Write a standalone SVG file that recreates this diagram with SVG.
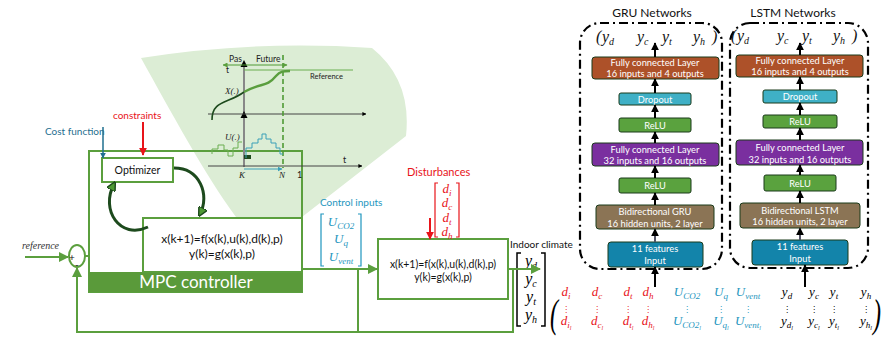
<svg xmlns="http://www.w3.org/2000/svg" width="883" height="339" viewBox="0 0 883 339">
<style>
.s{font-family:Lato,"Open Sans","DejaVu Sans",sans-serif}
.m{font-family:"Liberation Serif","DejaVu Serif",serif;font-style:italic}
.g{stroke:#5b9f3e;stroke-width:2;fill:none}
.box{fill:#fff;stroke:#5b9f3e;stroke-width:2}
.dd{fill:none;stroke:#000;stroke-width:2.2;stroke-dasharray:9 4 2 4}
.nn{stroke:#1a3a1a;stroke-width:1}
.wt{fill:#fff;font-size:9.3px;text-anchor:middle}
.red{fill:#e8141a}
.teal{fill:#1e96be}
.blk{stroke:#000;stroke-width:2;fill:none}
</style>
<defs>
<marker id="ag" viewBox="0 0 10 10" refX="9" refY="5" markerWidth="5" markerHeight="5" orient="auto"><path d="M0,0 L10,5 L0,10 z" fill="#5b9f3e"/></marker>
<marker id="ab" viewBox="0 0 10 10" refX="9" refY="5" markerWidth="4" markerHeight="4" orient="auto"><path d="M0,0 L10,5 L0,10 z" fill="#000"/></marker>
<marker id="ar" viewBox="0 0 10 10" refX="9" refY="5" markerWidth="4" markerHeight="4" orient="auto"><path d="M0,0 L10,5 L0,10 z" fill="#e8141a"/></marker>
<marker id="at" viewBox="0 0 10 10" refX="9" refY="5" markerWidth="4" markerHeight="4" orient="auto"><path d="M0,0 L10,5 L0,10 z" fill="#1f6f8f"/></marker>
<marker id="ac" viewBox="0 0 10 10" refX="9" refY="5" markerWidth="5" markerHeight="5" orient="auto"><path d="M0,0 L10,5 L0,10 z" fill="#3aa0b8"/></marker>
<marker id="adg" viewBox="0 0 10 10" refX="7" refY="5" markerWidth="3.2" markerHeight="3.2" orient="auto"><path d="M0,0 L10,5 L0,10 z" fill="#4f9a35" stroke="#1d4a1d" stroke-width="1.5"/></marker>
</defs>

<!-- zoom wedge -->
<path d="M141,58 Q255,40 372,48 Q412,80 406,136 L302,217 L236,217 C205,175 170,110 141,58 Z" fill="#dcedd5"/>

<!-- MPC controller -->
<g id="mpc">
<rect x="89" y="151" width="213" height="141" fill="none" stroke="#5b9f3e" stroke-width="2"/>
<rect x="89" y="272" width="213" height="20" fill="#5a9a3a"/>
<text x="196" y="288" class="s" font-size="17" fill="#fff" text-anchor="middle">MPC controller</text>
</g>

<!-- chart in wedge -->
<g id="chart">
<line x1="244" y1="167" x2="244" y2="62" stroke="#888" stroke-width="2"/>
<path d="M240.5,67 L244,60 L247.5,67 z" fill="#000"/>
<path d="M240.5,118 L244,111 L247.5,118 z" fill="#000"/>
<line x1="208" y1="114" x2="366" y2="114" stroke="#444" stroke-width="1" marker-end="url(#ab)"/>
<line x1="208" y1="166" x2="362" y2="166" stroke="#444" stroke-width="1" marker-end="url(#ab)"/>
<line x1="283" y1="55" x2="283" y2="168" stroke="#4f9a35" stroke-width="1.6" stroke-dasharray="5 3"/>
<line x1="244" y1="65" x2="223" y2="65" stroke="#4f9a35" stroke-width="1" marker-end="url(#ag)"/>
<line x1="244" y1="65" x2="287" y2="65" stroke="#4f9a35" stroke-width="1" marker-end="url(#ag)"/>
<text x="229" y="62" class="s" font-size="8.5" fill="#222">Pas</text>
<text x="256" y="62" class="s" font-size="8.5" fill="#222">Future</text>
<text x="226" y="73" class="s" font-size="8.5" fill="#222">t</text>
<line x1="244" y1="70" x2="353" y2="70" stroke="#6aae50" stroke-width="1"/>
<text x="310" y="79" class="s" font-size="7.5" fill="#222">Reference</text>
<path d="M212,120 C212,100 228,104 244,92" fill="none" stroke="#1d4a1d" stroke-width="1.6"/>
<path d="M244,92 C262,82 266,88 276,76 C280,71 284,71 290,71" fill="none" stroke="#5a9e3e" stroke-width="2.4"/>
<text x="225" y="94" class="m" font-size="9" fill="#222">X(.)</text>
<text x="225" y="140" class="m" font-size="9" fill="#222">U(.)</text>
<path d="M212,154 V149 H218 V145 H224 V150 H228 V156 H233 V148 H238 V142 H242" fill="none" stroke="#6aae50" stroke-width="1"/>
<rect x="244" y="155" width="7" height="4" fill="#1d4a1d"/>
<path d="M246,158 V148 H252 V143 H258 V139 H262 V134 H266 V139 H271 V143 H276 V148 H280 V154 H283" fill="none" stroke="#3aa0b8" stroke-width="1"/>
<line x1="244" y1="169" x2="282" y2="169" stroke="#3aa0b8" stroke-width="1" marker-end="url(#ac)"/>
<text x="239" y="178" class="m" font-size="9" fill="#222">K</text>
<text x="279" y="178" class="m" font-size="9" fill="#222">N</text>
<text x="297" y="178" class="s" font-size="9" fill="#222">1</text>
<text x="343" y="163" class="s" font-size="9" fill="#222">t</text>
</g>

<!-- labels -->
<text x="45" y="135" class="s" font-size="10" fill="#1f6f8f">Cost function</text>
<text x="113" y="119" class="s" font-size="10" fill="#e8141a">constraints</text>

<g id="optimizer">
<rect x="102" y="158" width="71" height="24" class="box"/>
<text x="137.5" y="174" class="s" font-size="10.5" fill="#111" text-anchor="middle">Optimizer</text>
</g>

<g id="model">
<rect x="143" y="218" width="159" height="54" class="box"/>
<text x="222" y="243" class="s" font-size="12" fill="#111" text-anchor="middle">x(k+1)=f(x(k),u(k),d(k),p)</text>
<text x="222" y="258" class="s" font-size="12" fill="#111" text-anchor="middle">y(k)=g(x(k),p)</text>
</g>

<g id="sum">
<ellipse cx="77" cy="256" rx="8" ry="11" fill="#fff" stroke="#5b9f3e" stroke-width="2"/>
<text x="69" y="261" class="s" font-size="10" fill="#111">+</text>
<text x="75" y="268" class="s" font-size="10" fill="#111">-</text>
</g>
<text x="22" y="249" class="m" font-size="10" fill="#333">reference</text>

<g id="plant">
<rect x="378" y="239" width="130" height="60" class="box"/>
<text x="443" y="268" class="s" font-size="10.5" fill="#111" text-anchor="middle">x(k+1)=f(x(k),u(k),d(k),p)</text>
<text x="443" y="281" class="s" font-size="10.5" fill="#111" text-anchor="middle">y(k)=g(x(k),p)</text>
</g>

<!-- control inputs -->
<g id="control-inputs">
<text x="320" y="206" class="s" font-size="10" fill="#1e96be">Control inputs</text>
<path d="M324,214 H321 V266 H324 M358,214 H361 V266 H358" fill="none" stroke="#1e96be" stroke-width="1.2"/>
<text x="341" y="226" class="m teal" font-size="13" text-anchor="middle">U<tspan font-size="9" dy="3">CO2</tspan></text>
<text x="341" y="243" class="m teal" font-size="13" text-anchor="middle">U<tspan font-size="9" dy="3">q</tspan></text>
<text x="341" y="261" class="m teal" font-size="13" text-anchor="middle">U<tspan font-size="9" dy="3">vent</tspan></text>
</g>

<!-- disturbances -->
<g id="disturbances">
<text x="407" y="176" class="s" font-size="11" fill="#e8141a">Disturbances</text>
<path d="M438,183 H435 V237 H438 M456,183 H459 V237 H456" fill="none" stroke="#e8141a" stroke-width="1.2"/>
<text x="447" y="193" class="m red" font-size="13" text-anchor="middle">d<tspan font-size="9" dy="3">i</tspan></text>
<text x="447" y="207" class="m red" font-size="13" text-anchor="middle">d<tspan font-size="9" dy="3">c</tspan></text>
<text x="447" y="222" class="m red" font-size="13" text-anchor="middle">d<tspan font-size="9" dy="3">t</tspan></text>
<text x="447" y="236" class="m red" font-size="13" text-anchor="middle">d<tspan font-size="9" dy="3">h</tspan></text>
</g>

<!-- indoor climate -->
<g id="indoor">
<text x="510" y="248" class="s" font-size="10" fill="#111">Indoor climate</text>
<path d="M521,253 H517 V326 H521 M541,253 H545 V326 H541" fill="none" stroke="#000" stroke-width="1.5"/>
<text x="531" y="266" class="m" font-size="16" text-anchor="middle">y<tspan font-size="10" dy="3">d</tspan></text>
<text x="531" y="284" class="m" font-size="16" text-anchor="middle">y<tspan font-size="10" dy="3">c</tspan></text>
<text x="531" y="302" class="m" font-size="16" text-anchor="middle">y<tspan font-size="10" dy="3">t</tspan></text>
<text x="531" y="320" class="m" font-size="16" text-anchor="middle">y<tspan font-size="10" dy="3">h</tspan></text>
</g>

<!-- data matrix -->
<g id="data" font-size="13">
<text x="550" y="327" class="m" font-size="40" fill="#000" transform="translate(550 327) scale(0.6 1) translate(-550 -327)">(</text>
<text x="873" y="327" class="m" font-size="40" fill="#000" transform="translate(873 327) scale(0.6 1) translate(-873 -327)">)</text>
<g class="m red" text-anchor="middle">
<text x="566" y="296">d<tspan font-size="9" dy="3">i</tspan></text>
<text x="597" y="296">d<tspan font-size="9" dy="3">c</tspan></text>
<text x="628" y="296">d<tspan font-size="9" dy="3">t</tspan></text>
<text x="648" y="296">d<tspan font-size="9" dy="3">h</tspan></text>
<text x="566" y="325">d<tspan font-size="9" dy="3">i<tspan font-size="6" dy="2">l</tspan></tspan></text>
<text x="597" y="325">d<tspan font-size="9" dy="3">c<tspan font-size="6" dy="2">l</tspan></tspan></text>
<text x="628" y="325">d<tspan font-size="9" dy="3">t<tspan font-size="6" dy="2">l</tspan></tspan></text>
<text x="648" y="325">d<tspan font-size="9" dy="3">h<tspan font-size="6" dy="2">l</tspan></tspan></text>
</g>
<g class="m teal" text-anchor="middle">
<text x="687" y="296">U<tspan font-size="9" dy="3">CO2</tspan></text>
<text x="721" y="296">U<tspan font-size="9" dy="3">q</tspan></text>
<text x="748" y="296">U<tspan font-size="9" dy="3">vent</tspan></text>
<text x="687" y="325">U<tspan font-size="9" dy="3">CO2<tspan font-size="6" dy="2">l</tspan></tspan></text>
<text x="721" y="325">U<tspan font-size="9" dy="3">q<tspan font-size="6" dy="2">l</tspan></tspan></text>
<text x="748" y="325">U<tspan font-size="9" dy="3">vent<tspan font-size="6" dy="2">l</tspan></tspan></text>
</g>
<g class="m" fill="#000" text-anchor="middle">
<text x="787" y="296">y<tspan font-size="9" dy="3">d</tspan></text>
<text x="814" y="296">y<tspan font-size="9" dy="3">c</tspan></text>
<text x="834" y="296">y<tspan font-size="9" dy="3">t</tspan></text>
<text x="866" y="296">y<tspan font-size="9" dy="3">h</tspan></text>
<text x="787" y="325">y<tspan font-size="9" dy="3">d<tspan font-size="6" dy="2">l</tspan></tspan></text>
<text x="814" y="325">y<tspan font-size="9" dy="3">c<tspan font-size="6" dy="2">l</tspan></tspan></text>
<text x="834" y="325">y<tspan font-size="9" dy="3">t<tspan font-size="6" dy="2">l</tspan></tspan></text>
<text x="866" y="325">y<tspan font-size="9" dy="3">h<tspan font-size="6" dy="2">l</tspan></tspan></text>
</g>
<g font-family="DejaVu Sans,sans-serif" font-size="8" text-anchor="middle">
<text x="566" y="312" fill="#e8141a">⋮</text><text x="597" y="312" fill="#e8141a">⋮</text><text x="628" y="312" fill="#e8141a">⋮</text><text x="648" y="312" fill="#e8141a">⋮</text>
<text x="687" y="312" fill="#1e96be">⋮</text><text x="721" y="312" fill="#1e96be">⋮</text><text x="748" y="312" fill="#1e96be">⋮</text>
<text x="787" y="312">⋮</text><text x="814" y="312">⋮</text><text x="834" y="312">⋮</text><text x="866" y="312">⋮</text>
</g>
</g>

<!-- GRU network -->
<text x="652" y="17" class="s" font-size="12" fill="#111" text-anchor="middle">GRU Networks</text>
<rect x="580" y="23" width="142" height="246" rx="20" class="dd"/>
<g class="m" font-size="16" fill="#111">
<text x="596" y="42">(</text>
<text x="602" y="42">y<tspan font-size="10" dy="3">d</tspan></text>
<text x="637" y="42">y<tspan font-size="10" dy="3">c</tspan></text>
<text x="662" y="42">y<tspan font-size="10" dy="3">t</tspan></text>
<text x="693" y="42">y<tspan font-size="10" dy="3">h</tspan></text>
<text x="712" y="42">)</text>
</g>
<g id="gru-fc2"><rect x="592" y="57" width="127" height="22" rx="3" fill="#ad5129" class="nn"/><text x="655" y="66" class="s wt">Fully connected Layer</text><text x="655" y="77" class="s wt">16 inputs and 4 outputs</text></g>
<g id="gru-drop"><rect x="619" y="93" width="72" height="12" rx="2" fill="#3fb0c6" class="nn"/><text x="655" y="102.5" class="s wt">Dropout</text></g>
<g id="gru-relu2"><rect x="619" y="118" width="72" height="14" rx="2" fill="#5aa23e" class="nn"/><text x="655" y="128.5" class="s wt">ReLU</text></g>
<g id="gru-fc1"><rect x="592" y="143" width="127" height="23" rx="3" fill="#7a2f9f" class="nn"/><text x="655" y="153" class="s wt">Fully connected Layer</text><text x="655" y="164" class="s wt">32 inputs and 16 outputs</text></g>
<g id="gru-relu1"><rect x="619" y="178" width="72" height="15" rx="2" fill="#5aa23e" class="nn"/><text x="655" y="189" class="s wt">ReLU</text></g>
<g id="gru-bi"><rect x="596" y="205" width="118" height="24" rx="3" fill="#8b7455" class="nn"/><text x="655" y="215" class="s wt">Bidirectional GRU</text><text x="655" y="226.5" class="s wt">16 hidden units, 2 layer</text></g>
<g id="gru-in"><rect x="608" y="242" width="95" height="25" rx="3" fill="#1384aa" class="nn"/><text x="655" y="252" class="s wt">11 features</text><text x="655" y="264" class="s wt">Input</text></g>

<!-- LSTM network -->
<text x="793" y="17" class="s" font-size="12" fill="#111" text-anchor="middle">LSTM Networks</text>
<rect x="730" y="23" width="138" height="245" rx="20" class="dd"/>
<g class="m" font-size="16" fill="#111">
<text x="731" y="41">(</text>
<text x="737" y="41">y<tspan font-size="10" dy="3">d</tspan></text>
<text x="777" y="41">y<tspan font-size="10" dy="3">c</tspan></text>
<text x="802" y="41">y<tspan font-size="10" dy="3">t</tspan></text>
<text x="833" y="41">y<tspan font-size="10" dy="3">h</tspan></text>
<text x="852" y="41">)</text>
</g>
<g id="lstm-fc2"><rect x="736" y="55" width="127" height="22" rx="3" fill="#ad5129" class="nn"/><text x="800" y="64" class="s wt">Fully connected Layer</text><text x="800" y="75" class="s wt">16 inputs and 4 outputs</text></g>
<g id="lstm-drop"><rect x="763" y="90" width="74" height="13" rx="2" fill="#3fb0c6" class="nn"/><text x="800" y="100" class="s wt">Dropout</text></g>
<g id="lstm-relu2"><rect x="763" y="115" width="74" height="13" rx="2" fill="#5aa23e" class="nn"/><text x="800" y="125" class="s wt">ReLU</text></g>
<g id="lstm-fc1"><rect x="736" y="140" width="127" height="25" rx="3" fill="#7a2f9f" class="nn"/><text x="800" y="151" class="s wt">Fully connected Layer</text><text x="800" y="162.5" class="s wt">32 inputs and 16 outputs</text></g>
<g id="lstm-relu1"><rect x="764" y="175" width="72" height="16" rx="2" fill="#5aa23e" class="nn"/><text x="800" y="186.5" class="s wt">ReLU</text></g>
<g id="lstm-bi"><rect x="740" y="203" width="120" height="25" rx="3" fill="#8b7455" class="nn"/><text x="800" y="213.5" class="s wt">Bidirectional LSTM</text><text x="800" y="225" class="s wt">16 hidden units, 2 layer</text></g>
<g id="lstm-in"><rect x="752" y="240" width="96" height="25" rx="3" fill="#1384aa" class="nn"/><text x="800" y="250" class="s wt">11 features</text><text x="800" y="262" class="s wt">Input</text></g>

<!-- connectors -->
<g id="connectors">
<line x1="103" y1="127" x2="103" y2="158" stroke="#1f6f8f" stroke-width="1.5" marker-end="url(#at)"/>
<line x1="143" y1="122" x2="143" y2="155" stroke="#e8141a" stroke-width="2" marker-end="url(#ar)"/>
<path d="M174,168 C200,168 210,195 200,214" fill="none" stroke="#1d4a1d" stroke-width="3" marker-end="url(#adg)"/>
<path d="M148,227 C120,240 100,210 114,184" fill="none" stroke="#1d4a1d" stroke-width="3" marker-end="url(#adg)"/>
<line x1="430" y1="218" x2="430" y2="239" stroke="#e8141a" stroke-width="2" marker-end="url(#ar)"/>
<line x1="25" y1="257" x2="68" y2="257" class="g" stroke-width="2.5" marker-end="url(#ag)"/>
<line x1="85" y1="256" x2="89" y2="256" class="g"/>
<line x1="302" y1="269" x2="377" y2="269" class="g" marker-end="url(#ag)"/>
<line x1="358" y1="269" x2="358" y2="332" class="g"/>
<line x1="508" y1="269" x2="540" y2="269" class="g" marker-end="url(#ag)"/>
<polyline points="513,269 513,332 77,332 77,268" class="g" marker-end="url(#ag)"/>
<line x1="655" y1="57" x2="655" y2="43" class="blk" marker-end="url(#ab)"/>
<line x1="655" y1="93" x2="655" y2="79" class="blk" marker-end="url(#ab)"/>
<line x1="655" y1="118" x2="655" y2="105" class="blk" marker-end="url(#ab)"/>
<line x1="655" y1="143" x2="655" y2="132" class="blk" marker-end="url(#ab)"/>
<line x1="655" y1="178" x2="655" y2="166" class="blk" marker-end="url(#ab)"/>
<line x1="655" y1="205" x2="655" y2="193" class="blk" marker-end="url(#ab)"/>
<line x1="655" y1="242" x2="655" y2="229" stroke="#556" stroke-width="2" marker-end="url(#ab)"/>
<line x1="655" y1="287" x2="655" y2="267" class="blk" stroke-width="2.5" marker-end="url(#ab)"/>
<line x1="800" y1="55" x2="800" y2="43" class="blk" marker-end="url(#ab)"/>
<line x1="800" y1="90" x2="800" y2="77" class="blk" marker-end="url(#ab)"/>
<line x1="800" y1="115" x2="800" y2="103" class="blk" marker-end="url(#ab)"/>
<line x1="800" y1="140" x2="800" y2="128" class="blk" marker-end="url(#ab)"/>
<line x1="800" y1="175" x2="800" y2="165" class="blk" marker-end="url(#ab)"/>
<line x1="800" y1="203" x2="800" y2="191" class="blk" marker-end="url(#ab)"/>
<line x1="800" y1="240" x2="800" y2="228" stroke="#556" stroke-width="2" marker-end="url(#ab)"/>
<line x1="805" y1="287" x2="805" y2="265" class="blk" stroke-width="2.5" marker-end="url(#ab)"/>
</g>
</svg>
